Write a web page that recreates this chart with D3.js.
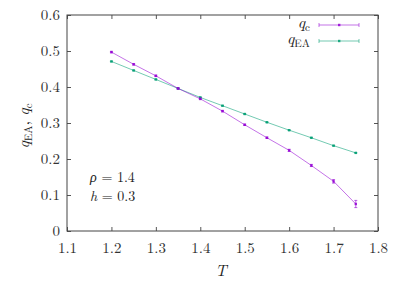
<!DOCTYPE html>
<html><head><meta charset="utf-8">
<script src="https://cdn.jsdelivr.net/npm/d3@7"></script>
<style>
body{margin:0;background:#fff;}
</style></head>
<body><svg id="c" width="406" height="282"></svg>
<script>
const T = [1.2,1.25,1.3,1.35,1.4,1.45,1.5,1.55,1.6,1.65,1.7,1.75];
const qc = [0.497,0.463,0.431,0.396,0.367,0.333,0.295,0.259,0.224,0.182,0.138,0.075];
const qcErr = [0.002,0.002,0.002,0.002,0.002,0.002,0.002,0.002,0.003,0.003,0.005,0.010];
const qEA = [0.471,0.446,0.421,0.396,0.371,0.348,0.325,0.302,0.280,0.259,0.237,0.217];
const qEAErr = [0.001,0.001,0.001,0.001,0.001,0.001,0.001,0.001,0.001,0.001,0.001,0.001];
const xTicks = [1.1,1.2,1.3,1.4,1.5,1.6,1.7,1.8];
const yTicks = [0,0.1,0.2,0.3,0.4,0.5,0.6];
const colQc = "#9400d3", colEA = "#009e73";
const FONT = "Latin Modern Roman";

const svg = d3.select("#c");
const L=67,R=378,Tp=15,B=231;
const x = d3.scaleLinear().domain([1.1,1.8]).range([L,R]);
const y = d3.scaleLinear().domain([0,0.6]).range([B,Tp]);

const fmtX = d => d.toFixed(1), fmtY = d => d===0?"0":d.toFixed(1);
const tl = 4;
svg.append("g").attr("transform",`translate(0,${B})`)
  .call(d3.axisBottom(x).tickValues(xTicks).tickFormat(fmtX).tickSize(-tl).tickPadding(11))
  .call(g=>g.select(".domain").remove());
svg.append("g").attr("transform",`translate(0,${Tp})`)
  .call(d3.axisTop(x).tickValues(xTicks).tickFormat("").tickSize(-tl))
  .call(g=>g.select(".domain").remove());
svg.append("g").attr("transform",`translate(${L},0)`)
  .call(d3.axisLeft(y).tickValues(yTicks).tickFormat(fmtY).tickSize(-tl).tickPadding(7))
  .call(g=>g.select(".domain").remove());
svg.append("g").attr("transform",`translate(${R},0)`)
  .call(d3.axisRight(y).tickValues(yTicks).tickFormat("").tickSize(-tl))
  .call(g=>g.select(".domain").remove());
svg.selectAll("g").attr("font-family",FONT);
svg.selectAll(".tick line").attr("stroke","#555");
svg.selectAll(".tick text").attr("font-size",15).attr("fill","#333").attr("font-family",FONT);
svg.append("rect").attr("x",L).attr("y",Tp).attr("width",R-L).attr("height",B-Tp)
  .attr("fill","none").attr("stroke","#444").attr("stroke-width",1);

function series(vals, errs, col){
  const g = svg.append("g");
  g.append("path").datum(T.map((t,i)=>[t,vals[i]]))
    .attr("d",d3.line().x(d=>x(d[0])).y(d=>y(d[1])))
    .attr("fill","none").attr("stroke",col).attr("stroke-width",1).attr("stroke-opacity",0.55);
  T.forEach((t,i)=>{
    const cx=x(t), y1=y(vals[i]-errs[i]), y2=y(vals[i]+errs[i]);
    g.append("line").attr("x1",cx).attr("x2",cx).attr("y1",y1).attr("y2",y2).attr("stroke",col).attr("stroke-opacity",0.6);
    g.append("line").attr("x1",cx-1.5).attr("x2",cx+1.5).attr("y1",y1).attr("y2",y1).attr("stroke",col).attr("stroke-opacity",0.6);
    g.append("line").attr("x1",cx-1.5).attr("x2",cx+1.5).attr("y1",y2).attr("y2",y2).attr("stroke",col).attr("stroke-opacity",0.6);
    g.append("rect").attr("x",cx-1.2).attr("y",y(vals[i])-1.2).attr("width",2.4).attr("height",2.4).attr("fill",col).attr("fill-opacity",0.85);
  });
}
series(qEA,qEAErr,colEA);
series(qc,qcErr,colQc);

const leg = [{lab:"c",col:colQc,y:25},{lab:"EA",col:colEA,y:41}];
leg.forEach(l=>{
  const t = svg.append("text").attr("x",310).attr("y",l.y+3).attr("text-anchor","end").attr("font-size",16).attr("font-family",FONT).attr("fill","#222");
  t.append("tspan").attr("font-style","italic").text("q");
  t.append("tspan").attr("font-size",11).attr("dy",2.5).text(l.lab);
  svg.append("line").attr("x1",319).attr("x2",359).attr("y1",l.y).attr("y2",l.y).attr("stroke",l.col).attr("stroke-opacity",0.55);
  [319,359].forEach(px=>svg.append("line").attr("x1",px).attr("x2",px).attr("y1",l.y-2).attr("y2",l.y+2).attr("stroke",l.col).attr("stroke-opacity",0.55));
  svg.append("rect").attr("x",338).attr("y",l.y-1.2).attr("width",2.4).attr("height",2.4).attr("fill",l.col).attr("fill-opacity",0.85);
});

const yl = svg.append("text").attr("transform","translate(29,126) rotate(-90)").attr("text-anchor","middle").attr("font-size",16).attr("font-family",FONT).attr("fill","#222");
yl.append("tspan").attr("font-style","italic").text("q");
yl.append("tspan").attr("font-size",11).attr("dy",2.5).text("EA");
yl.append("tspan").attr("dy",-2.5).text(", ");
yl.append("tspan").attr("font-style","italic").text("q");
yl.append("tspan").attr("font-size",11).attr("dy",2.5).text("c");

svg.append("text").attr("x",221).attr("y",276).attr("text-anchor","middle").attr("font-size",16).attr("font-style","italic").attr("font-family",FONT).attr("fill","#222").text("T");

const a1 = svg.append("text").attr("x",90).attr("y",182).attr("font-size",14).attr("font-family",FONT).attr("fill","#222");
a1.append("tspan").attr("font-style","italic").text("ρ");
a1.append("tspan").text(" = 1.4");
const a2 = svg.append("text").attr("x",90).attr("y",201).attr("font-size",14).attr("font-family",FONT).attr("fill","#222");
a2.append("tspan").attr("font-style","italic").text("h");
a2.append("tspan").text(" = 0.3");
</script></body></html>
